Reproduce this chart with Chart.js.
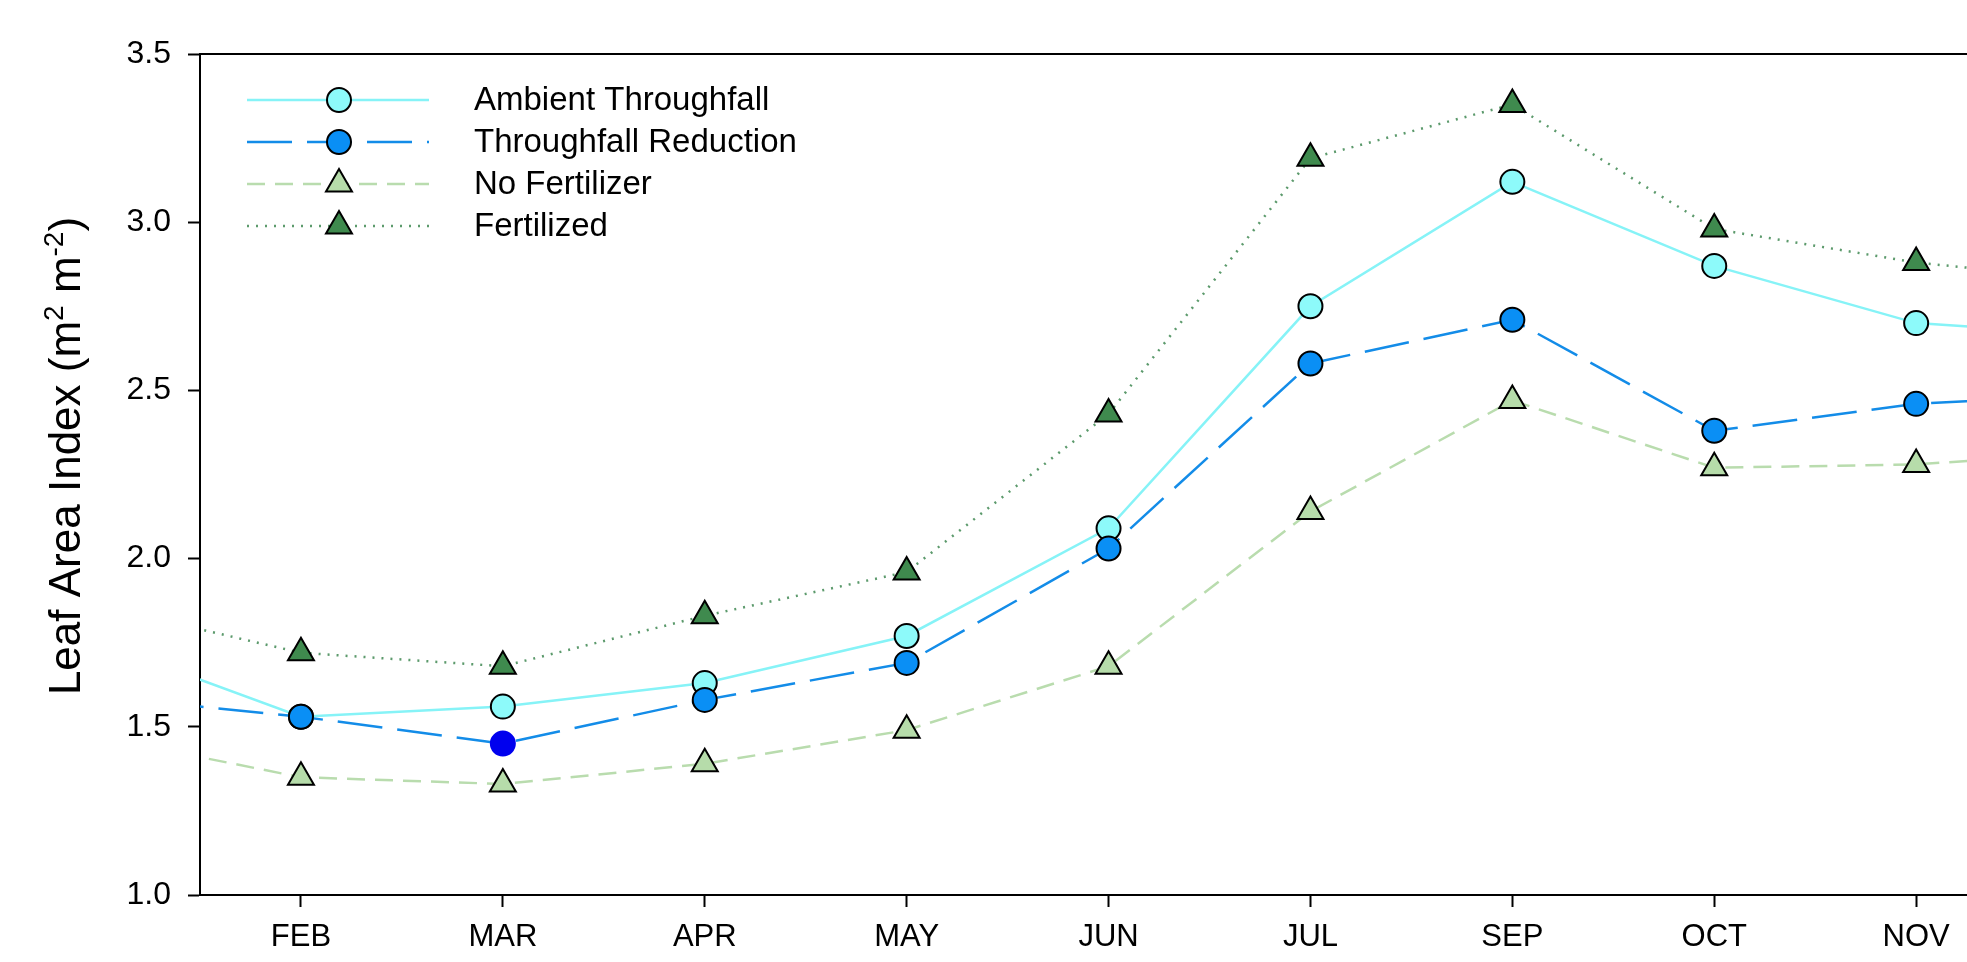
<!DOCTYPE html>
<html>
<head>
<meta charset="utf-8">
<script src="https://cdn.jsdelivr.net/npm/chart.js@4"></script>
<style>
  html, body { margin: 0; padding: 0; background: #fff; overflow: hidden; }
  #wrap { position: absolute; left: 0; top: 0; width: 2240px; height: 962px; }
</style>
</head>
<body>
<div id="wrap"><canvas id="chart1" width="2240" height="962"></canvas></div>
<script>
// months on the x axis (JAN and DEC fall outside the visible frame)
var months = ['JAN', 'FEB', 'MAR', 'APR', 'MAY', 'JUN', 'JUL', 'SEP', 'OCT', 'NOV', 'DEC'];
var ambient   = [1.75, 1.53, 1.56, 1.63, 1.77, 2.09, 2.75, 3.12, 2.87, 2.70, 2.66];
var reduction = [1.59, 1.53, 1.45, 1.58, 1.69, 2.03, 2.58, 2.71, 2.38, 2.46, 2.49];
var noFert    = [1.47, 1.35, 1.33, 1.39, 1.49, 1.68, 2.14, 2.47, 2.27, 2.28, 2.32];
var fert      = [1.86, 1.72, 1.68, 1.83, 1.96, 2.43, 3.19, 3.35, 2.98, 2.88, 2.82];
var yTicks = [1.0, 1.5, 2.0, 2.5, 3.0, 3.5];

var FONT = "'Liberation Sans', Arial, sans-serif";

function pts(arr) {
    return arr.map(function (v, i) { return { x: i, y: v }; });
}

// the MAR point of the reduction series is drawn solid blue, without outline
var redFill = months.map(function (m) { return m === 'MAR' ? '#0000ee' : '#0a8ff5'; });
var redEdge = months.map(function (m) { return m === 'MAR' ? '#0000ee' : '#000000'; });

var legendPlugin = {
    id: 'sideLegend',
    afterDraw: function (chart) {
        var ctx = chart.ctx;
        ctx.save();
        chart.data.datasets.forEach(function (ds, i) {
            var y = 100 + i * 42;
            ctx.strokeStyle = ds.borderColor;
            ctx.lineWidth = ds.borderWidth;
            ctx.setLineDash(ds.borderDash || []);
            ctx.beginPath();
            ctx.moveTo(247, y);
            ctx.lineTo(429, y);
            ctx.stroke();
            ctx.setLineDash([]);
            ctx.fillStyle = Array.isArray(ds.pointBackgroundColor) ? ds.pointBackgroundColor[1] : ds.pointBackgroundColor;
            ctx.strokeStyle = '#000';
            ctx.lineWidth = ds.pointBorderWidth;
            Chart.helpers.drawPoint(ctx, {
                pointStyle: ds.pointStyle,
                radius: ds.pointRadius,
                borderWidth: ds.pointBorderWidth
            }, 339, y);

            ctx.fillStyle = '#000';
            ctx.font = '33px ' + FONT;
            ctx.textAlign = 'left';
            ctx.textBaseline = 'middle';
            ctx.fillText(ds.label, 474, y + 1);
        });
        ctx.restore();
    }
};

var framePlugin = {
    id: 'frame',
    afterDraw: function (chart) {
        var ctx = chart.ctx;
        var a = chart.chartArea;
        ctx.save();
        ctx.strokeStyle = '#000';
        ctx.lineWidth = 2;
        ctx.beginPath();
        ctx.moveTo(a.left - 1, a.top);
        ctx.lineTo(a.right, a.top);
        ctx.lineTo(a.right, a.bottom);
        ctx.stroke();

        // y axis title with superscripts
        var parts = [['Leaf Area Index (m', 0], ['2', 1], [' m', 0], ['-2', 1], [')', 0]];
        var big = '44px ' + FONT, small = '28px ' + FONT;
        var total = 0;
        parts.forEach(function (p) {
            ctx.font = p[1] ? small : big;
            total += ctx.measureText(p[0]).width;
        });
        ctx.translate(80, 456);
        ctx.rotate(-Math.PI / 2);
        ctx.fillStyle = '#000';
        ctx.textBaseline = 'alphabetic';
        ctx.textAlign = 'left';
        var x = -total / 2;
        parts.forEach(function (p) {
            ctx.font = p[1] ? small : big;
            ctx.fillText(p[0], x, p[1] ? -17 : 0);
            x += ctx.measureText(p[0]).width;
        });
        ctx.restore();
    }
};

new Chart(document.getElementById('chart1'), {
    type: 'line',
    data: {
        datasets: [{
            label: 'Ambient Throughfall',
            data: pts(ambient),
            order: 2,
            borderColor: '#86f3f7',
            borderWidth: 2.5,
            pointStyle: 'circle',
            pointRadius: 12,
            pointBorderWidth: 2,
            pointBackgroundColor: '#8dfafa',
            pointBorderColor: '#000'
        }, {
            label: 'Throughfall Reduction',
            data: pts(reduction),
            order: 1,
            borderColor: '#138ce8',
            borderWidth: 2.5,
            borderDash: [45, 15],
            pointStyle: 'circle',
            pointRadius: 12,
            pointBorderWidth: 2,
            pointBackgroundColor: redFill,
            pointBorderColor: redEdge
        }, {
            label: 'No Fertilizer',
            data: pts(noFert),
            order: 3,
            borderColor: '#b9dcae',
            borderWidth: 2.5,
            borderDash: [18, 10],
            pointStyle: 'triangle',
            pointRadius: 15,
            pointBorderWidth: 2,
            pointBackgroundColor: '#b6dcaa',
            pointBorderColor: '#000'
        }, {
            label: 'Fertilized',
            data: pts(fert),
            order: 4,
            borderColor: '#5c9a6c',
            borderWidth: 2.5,
            borderDash: [2, 7],
            pointStyle: 'triangle',
            pointRadius: 15,
            pointBorderWidth: 2,
            pointBackgroundColor: '#3f8a4e',
            pointBorderColor: '#000'
        }]
    },
    options: {
        responsive: false,
        animation: false,
        events: [],
        layout: { padding: { left: 0, top: 54, right: 21, bottom: 0 } },
        elements: { line: { tension: 0, fill: false } },
        plugins: { legend: { display: false }, tooltip: { enabled: false } },
        scales: {
            x: {
                type: 'linear',
                min: 0.5,
                max: 10.5,
                afterFit: function (s) { s.height = 67; },
                afterBuildTicks: function (s) {
                    s.ticks = months.map(function (m, i) { return { value: i }; })
                        .filter(function (t) { return t.value >= s.min && t.value <= s.max; });
                },
                grid: { drawOnChartArea: false, drawTicks: true, tickLength: 12, tickWidth: 2, tickColor: '#000' },
                border: { display: true, color: '#000', width: 2 },
                ticks: {
                    color: '#000',
                    font: { family: FONT, size: 31 },
                    padding: 12,
                    maxRotation: 0,
                    autoSkip: false,
                    callback: function (v) { return months[v]; }
                }
            },
            y: {
                min: 1.0,
                max: 3.5,
                afterFit: function (s) { s.width = 200; },
                afterBuildTicks: function (s) {
                    s.ticks = yTicks.map(function (v) { return { value: v }; });
                },
                grid: { drawOnChartArea: false, drawTicks: true, tickLength: 12, tickWidth: 2, tickColor: '#000' },
                border: { display: true, color: '#000', width: 2 },
                ticks: {
                    color: '#000',
                    font: { family: FONT, size: 32 },
                    padding: 17,
                    callback: function (v) { return v.toFixed(1); }
                }
            }
        }
    },
    plugins: [legendPlugin, framePlugin]
});
</script>
</body>
</html>
